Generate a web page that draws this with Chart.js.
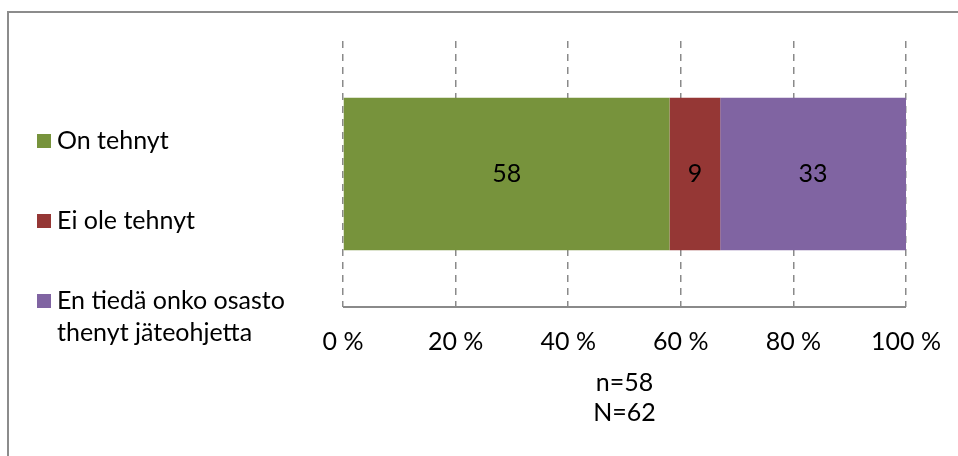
<!DOCTYPE html>
<html>
<head>
<meta charset="utf-8">
<script src="https://cdn.jsdelivr.net/npm/chart.js@4/dist/chart.umd.min.js"></script>
<style>
  html, body { margin: 0; padding: 0; background: #ffffff; }
  #wrap { position: relative; width: 958px; height: 456px; overflow: hidden; }
  #frame { position: absolute; left: 7px; top: 11px; width: 1000px; height: 500px;
           border-left: 2px solid #8c8c8c; border-top: 2px solid #8c8c8c; box-sizing: border-box; }
  canvas { position: absolute; left: 0; top: 0; }
</style>
</head>
<body>
<div id="wrap">
  <div id="frame"></div>
  <canvas id="chart" width="958" height="456"></canvas>
</div>
<script>
// Single 100 % stacked bar: has the department made a waste guide?
const categories = [''];
const seriesNames = [
  ['On tehnyt'],
  ['Ei ole tehnyt'],
  ['En tiedä onko osasto', 'thenyt jäteohjetta']
];
const seriesValues = [[58], [9], [33]];
const seriesColors = ['#77933C', '#953735', '#8064A2'];
const tickValues = [0, 20, 40, 60, 80, 100];
const axisNote = ['n=58', 'N=62'];

const FONT = 'Lato, "Open Sans", sans-serif';
const FONT_SIZE = 25;

// Values written in the middle of each bar segment
const segmentLabels = {
  id: 'segmentLabels',
  afterDatasetsDraw(chart) {
    const ctx = chart.ctx;
    ctx.save();
    ctx.font = FONT_SIZE + 'px ' + FONT;
    ctx.fillStyle = '#000000';
    ctx.textAlign = 'center';
    ctx.textBaseline = 'middle';
    chart.data.datasets.forEach((ds, i) => {
      chart.getDatasetMeta(i).data.forEach((bar, j) => {
        const c = bar.getCenterPoint();
        ctx.fillText(String(ds.data[j]), c.x, c.y);
      });
    });
    ctx.restore();
  }
};

// Solid value-axis line along the bottom of the plot
const axisLine = {
  id: 'axisLine',
  afterDraw(chart) {
    const ctx = chart.ctx;
    const x = chart.scales.x;
    const y = chart.chartArea.bottom;
    ctx.save();
    ctx.strokeStyle = '#8a8a8a';
    ctx.lineWidth = 2;
    ctx.beginPath();
    ctx.moveTo(x.getPixelForValue(tickValues[0]), y);
    ctx.lineTo(x.getPixelForValue(tickValues[tickValues.length - 1]), y);
    ctx.stroke();
    ctx.restore();
  }
};

// Legend on the left with square keys and wrapped text
const sideLegend = {
  id: 'sideLegend',
  afterDraw(chart) {
    const ctx = chart.ctx;
    const rows = [141, 221, 301];
    const lineGap = 32;
    ctx.save();
    ctx.font = FONT_SIZE + 'px ' + FONT;
    ctx.textBaseline = 'middle';
    ctx.textAlign = 'left';
    chart.data.datasets.forEach((ds, i) => {
      const y = rows[i];
      ctx.fillStyle = ds.backgroundColor;
      ctx.fillRect(37, y - 7, 14, 14);
      ctx.fillStyle = '#000000';
      ds.legendLines.forEach((line, k) => ctx.fillText(line, 57, y + k * lineGap));
    });
    ctx.restore();
  }
};

new Chart(document.getElementById('chart'), {
  type: 'bar',
  data: {
    labels: categories,
    datasets: seriesNames.map((name, i) => ({
      label: name.join(' '),
      legendLines: name,
      data: seriesValues[i],
      backgroundColor: seriesColors[i],
      borderWidth: 0,
      barPercentage: 0.574,
      categoryPercentage: 1
    }))
  },
  options: {
    indexAxis: 'y',
    responsive: false,
    animation: false,
    layout: { padding: { left: 343, right: 52, top: 41, bottom: 28 } },
    plugins: { legend: { display: false }, tooltip: { enabled: false } },
    scales: {
      x: {
        stacked: true,
        min: 0,
        max: 100,
        afterBuildTicks(scale) { scale.ticks = tickValues.map(v => ({ value: v })); },
        afterFit(scale) { scale.paddingLeft = 0; scale.paddingRight = 0; },
        ticks: {
          color: '#000000',
          font: { family: FONT, size: FONT_SIZE },
          padding: 20,
          maxRotation: 0,
          callback: v => v + ' %'
        },
        grid: { color: '#8a8a8a', lineWidth: 1.5, drawTicks: false },
        border: { display: false, dash: [7, 6] },
        title: {
          display: true,
          text: axisNote,
          color: '#000000',
          font: { family: FONT, size: FONT_SIZE, lineHeight: 1.2 },
          padding: { top: -9, bottom: 0 }
        }
      },
      y: {
        stacked: true,
        display: false
      }
    }
  },
  plugins: [segmentLabels, axisLine, sideLegend]
});
</script>
</body>
</html>
